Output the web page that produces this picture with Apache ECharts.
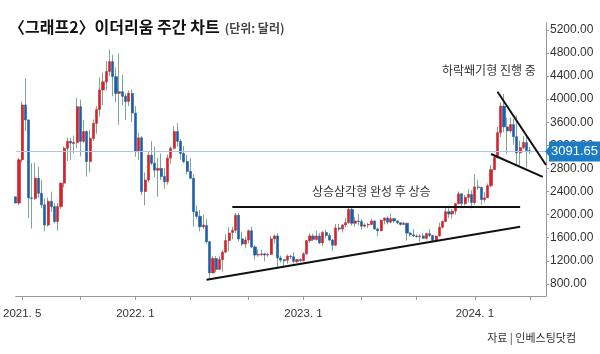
<!DOCTYPE html>
<html>
<head>
<meta charset="utf-8">
<script src="https://cdn.jsdelivr.net/npm/echarts@6/dist/echarts.min.js"></script>
<style>
  html, body { margin: 0; padding: 0; background: #fff; }
  #chart { width: 600px; height: 354px; }
</style>
</head>
<body>
<div id="chart"></div>
<script>
// weekly candles, first week starts 2021-04-18 (sunday)
const startDate = '2021-04-18';
const totalWeeks = 165; // axis runs a few weeks past the last candle

const opens = [
  2310, 2200, 2950, 3900, 3640, 2290, 2280, 2630, 2370, 2170,
  1820, 2230, 2140, 1880, 2140, 2545, 3150, 3270, 3230, 3250,
  3870, 3270, 3440, 2920, 3320, 3580, 3820, 4160, 4300, 4480,
  4650, 4390, 4100, 4130, 4050, 3960, 4100, 3760, 3090, 3330,
  2400, 2600, 3030, 2890, 2770, 2800, 2660, 2570, 2980, 3150,
  3440, 3270, 3060, 2920, 2750, 2630, 2050, 1970, 1790, 1810,
  1530, 990, 1240, 1050, 1220, 1350, 1550, 1690, 1730, 1990,
  1580, 1490, 1560, 1720, 1440, 1300, 1310, 1320, 1300, 1310,
  1580, 1630, 1250, 1220, 1210, 1280, 1270, 1190, 1220, 1200,
  1320, 1550, 1630, 1570, 1630, 1510, 1690, 1640, 1560, 1470,
  1770, 1750, 1820, 1860, 2090, 1850, 1890, 1880, 1800, 1820,
  1830, 1890, 1750, 1720, 1900, 1940, 1870, 1930, 1890, 1860,
  1830, 1850, 1680, 1650, 1630, 1620, 1630, 1590, 1670, 1640,
  1550, 1630, 1780, 1880, 2050, 2010, 2060, 2190, 2360, 2190,
  2300, 2350, 2210, 2480, 2470, 2260, 2290, 2500, 2780, 2990,
  3420, 3880, 3520, 3450, 3560, 3350, 3070, 3160, 3250, 3110
];
const closes = [
  2200, 2950, 3900, 3640, 2290, 2280, 2630, 2370, 2170, 1820,
  2230, 2140, 1880, 2140, 2545, 3150, 3270, 3240, 3250, 3870,
  3270, 3440, 2920, 3320, 3580, 3820, 4160, 4300, 4480, 4650,
  4390, 4100, 4130, 4050, 3960, 4100, 3760, 3090, 3330, 2400,
  2600, 3030, 2890, 2770, 2800, 2660, 2570, 2980, 3150, 3440,
  3270, 3060, 2920, 2750, 2630, 2050, 1970, 1790, 1820, 1530,
  990, 1240, 1050, 1220, 1350, 1550, 1680, 1730, 1990, 1580,
  1490, 1560, 1720, 1440, 1300, 1310, 1320, 1300, 1310, 1580,
  1630, 1250, 1210, 1200, 1280, 1270, 1190, 1220, 1200, 1320,
  1550, 1630, 1570, 1630, 1510, 1690, 1640, 1560, 1470, 1770,
  1750, 1820, 1860, 2090, 1850, 1890, 1880, 1800, 1820, 1830,
  1890, 1750, 1720, 1900, 1940, 1870, 1930, 1890, 1860, 1830,
  1850, 1680, 1650, 1630, 1620, 1630, 1590, 1670, 1640, 1550,
  1630, 1780, 1880, 2050, 2010, 2060, 2190, 2360, 2190, 2300,
  2350, 2210, 2480, 2470, 2260, 2290, 2500, 2780, 2990, 3420,
  3880, 3520, 3450, 3560, 3350, 3070, 3160, 3250, 3110, 3091.65
];
const lows = [
  2100, 2160, 2900, 3450, 1940, 1760, 2250, 2290, 2110, 1710,
  1790, 2050, 1850, 1720, 2100, 2470, 2930, 2950, 3060, 3150,
  3010, 3240, 2660, 2740, 3280, 3400, 3700, 3900, 4150, 4400,
  4050, 3950, 3560, 3900, 3640, 3880, 3600, 3000, 2950, 2340,
  2160, 2560, 2860, 2650, 2310, 2600, 2450, 2520, 2880, 3130,
  3180, 2950, 2890, 2700, 2620, 1790, 1930, 1710, 1750, 1500,
  890, 980, 1000, 1070, 1010, 1330, 1360, 1570, 1680, 1540,
  1460, 1420, 1500, 1420, 1220, 1270, 1280, 1190, 1270, 1300,
  1500, 1070, 1170, 1080, 1150, 1230, 1150, 1160, 1180, 1190,
  1310, 1510, 1540, 1550, 1490, 1460, 1590, 1540, 1370, 1460,
  1710, 1690, 1780, 1840, 1810, 1790, 1810, 1740, 1780, 1770,
  1820, 1740, 1630, 1710, 1830, 1830, 1850, 1860, 1830, 1810,
  1820, 1550, 1620, 1610, 1600, 1530, 1580, 1570, 1610, 1520,
  1540, 1620, 1760, 1870, 1940, 1930, 2000, 2180, 2140, 2160,
  2210, 2110, 2170, 2430, 2170, 2210, 2290, 2470, 2780, 2970,
  3340, 3430, 3060, 3420, 3210, 2870, 2850, 3130, 2820, 3050
];
const highs = [
  2360, 2980, 3960, 4360, 3650, 2890, 2900, 2830, 2600, 2280,
  2290, 2400, 2200, 2200, 2560, 3180, 3330, 3330, 3370, 4020,
  3990, 3640, 3460, 3470, 3650, 3880, 4380, 4460, 4660, 4860,
  4770, 4550, 4790, 4420, 4100, 4150, 4170, 3880, 3420, 3360,
  2730, 3090, 3270, 3180, 2980, 3060, 2800, 3040, 3180, 3530,
  3580, 3310, 3190, 3030, 2980, 2700, 2160, 2080, 2000, 1920,
  1540, 1280, 1280, 1280, 1380, 1660, 1780, 1790, 2030, 2030,
  1700, 1620, 1740, 1790, 1470, 1400, 1390, 1340, 1340, 1630,
  1660, 1680, 1290, 1230, 1310, 1300, 1350, 1230, 1240, 1350,
  1560, 1680, 1670, 1720, 1680, 1720, 1740, 1680, 1580, 1840,
  1840, 1830, 1940, 2130, 2140, 1960, 2010, 1920, 1850, 1860,
  1930, 1900, 1780, 1920, 1950, 1970, 2020, 1940, 1900, 1870,
  1870, 1860, 1700, 1750, 1660, 1660, 1680, 1690, 1750, 1650,
  1640, 1860, 1900, 2130, 2110, 2100, 2200, 2400, 2370, 2340,
  2440, 2420, 2700, 2600, 2480, 2390, 2540, 2860, 3030, 3520,
  3950, 4090, 3680, 3680, 3660, 3720, 3280, 3360, 3350, 3170
];

const lastPrice = 3091.65;
const yTicks = [800, 1200, 1600, 2000, 2400, 2800, 3200, 3600, 4000, 4400, 4800, 5200];

// trend lines: [week index, price]
const supportLine = [[59, 870], [156, 1790]];
const resistanceLine = [[67, 2143], [156, 2143]];
const wedgeTop = [[149, 4130], [164, 2860]];
const wedgeBottom = [[147, 3050], [163, 2655]];

const weeks = [];
{
  const d0 = new Date(startDate + 'T00:00:00Z');
  for (let i = 0; i < totalWeeks; i++) {
    const d = new Date(d0.getTime() + i * 7 * 86400000);
    weeks.push(d.toISOString().slice(0, 10));
  }
}

const ohlc = opens.map((o, i) => [o, closes[i], lows[i], highs[i]]);
const bodies = opens.map((o, i) => [o, closes[i], Math.min(o, closes[i]), Math.max(o, closes[i])]);

function isTickWeek(idx) {
  const d = weeks[idx];
  const m = +d.slice(5, 7), day = +d.slice(8, 10);
  return day <= 7 && (m === 1 || m === 5 || m === 9);
}
function isLabelWeek(idx) {
  const d = weeks[idx];
  const m = +d.slice(5, 7), day = +d.slice(8, 10);
  return day <= 7 && (m === 1 || (idx < 10 && m === 5));
}

const wickColor = '#7ea690';
const upColor = '#d3232c';
const downColor = '#1e5ea9';
const lineSeg = (pts) => [{ coord: pts[0] }, { coord: pts[1] }];

const chart = echarts.init(document.getElementById('chart'));
chart.setOption({
  animation: false,
  title: {
    left: 4,
    top: 13,
    text: '{a|〈그래프2〉이더리움 주간 차트} {b|(단위: 달러)}',
    textStyle: {
      rich: {
        a: { fontFamily: 'Noto Sans CJK KR', fontWeight: 'bold', fontSize: 16, color: '#111' },
        b: { fontFamily: 'Noto Sans CJK KR', fontSize: 12, color: '#444', padding: [3, 0, 0, 0] }
      }
    }
  },
  grid: { left: 10, right: 54, top: 23, bottom: 58 },
  xAxis: {
    type: 'category',
    data: weeks,
    boundaryGap: false,
    axisLine: { lineStyle: { color: '#999' } },
    axisTick: { interval: (i) => isTickWeek(i), length: 4, lineStyle: { color: '#999' } },
    axisLabel: {
      interval: (i) => isLabelWeek(i),
      formatter: (v) => v.slice(0, 4) + '. ' + (+v.slice(5, 7)),
      fontFamily: 'Liberation Sans, sans-serif',
      fontSize: 11.5,
      color: '#333',
      margin: 12
    },
    splitLine: { show: false }
  },
  yAxis: {
    type: 'value',
    position: 'right',
    min: 590,
    max: 5320,
    scale: true,
    axisLine: { show: true, lineStyle: { color: '#999' } },
    axisTick: { show: true, customValues: yTicks, length: 3, lineStyle: { color: '#999' } },
    axisLabel: {
      customValues: yTicks,
      formatter: (v) => v.toFixed(2),
      fontFamily: 'Liberation Sans, sans-serif',
      fontSize: 12,
      color: '#333',
      margin: 4
    },
    splitLine: { show: false }
  },
  series: [
    {
      name: 'wick',
      type: 'candlestick',
      data: ohlc,
      barWidth: 1,
      itemStyle: { color: wickColor, color0: wickColor, borderColor: wickColor, borderColor0: wickColor, borderWidth: 1 },
      markLine: {
        silent: true,
        symbol: ['none', 'none'],
        data: [
          {
            yAxis: lastPrice,
            lineStyle: { color: '#adc3ea', width: 1, type: 'solid' },
            label: {
              show: true,
              position: 'end',
              distance: 3,
              formatter: '3091.65',
              color: '#fff',
              backgroundColor: '#1b7bc4',
              padding: [4, 2, 3, 2],
              fontFamily: 'Liberation Sans, sans-serif',
              fontSize: 13
            }
          },
          lineSeg(supportLine),
          lineSeg(resistanceLine),
          lineSeg(wedgeTop),
          lineSeg(wedgeBottom)
        ],
        lineStyle: { color: '#111', width: 2, type: 'solid' },
        label: { show: false }
      },
      markPoint: {
        silent: true,
        data: [{ coord: [totalWeeks - 1, lastPrice] }],
        symbol: 'triangle',
        symbolRotate: 90,
        symbolSize: [14, 6],
        symbolOffset: [2, 0],
        itemStyle: { color: '#1b7bc4' },
        label: { show: false }
      }
    },
    {
      name: 'body',
      type: 'candlestick',
      data: bodies,
      barWidth: 2.6,
      itemStyle: { color: upColor, color0: downColor, borderColor: upColor, borderColor0: downColor, borderWidth: 0.6 }
    }
  ],
  graphic: [
    {
      type: 'text', left: 442, top: 64,
      style: { text: '하락쐐기형 진행 중', font: '12px "Noto Sans CJK KR"', fill: '#333' }
    },
    {
      type: 'text', left: 312, top: 185,
      style: { text: '상승삼각형 완성 후 상승', font: '12px "Noto Sans CJK KR"', fill: '#333' }
    },
    {
      type: 'text', right: 24, top: 332,
      style: { text: '자료 | 인베스팅닷컴', font: '11px "Noto Sans CJK KR"', fill: '#333' }
    }
  ]
});
</script>
</body>
</html>
